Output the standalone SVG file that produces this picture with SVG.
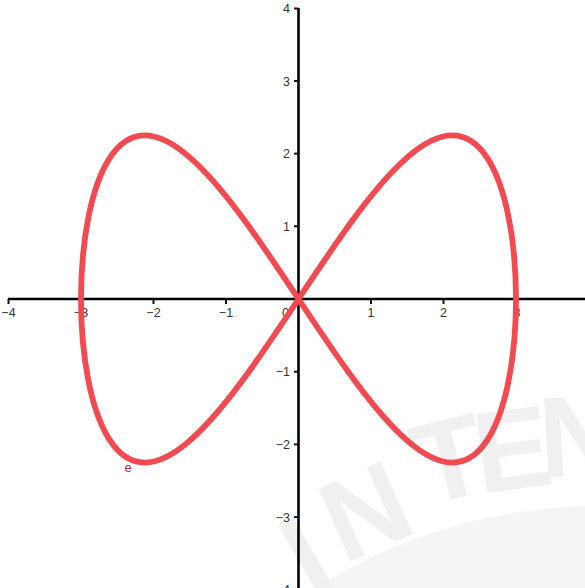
<svg xmlns="http://www.w3.org/2000/svg" width="585" height="588" viewBox="0 0 585 588">
<style>
.wm{font-family:"Liberation Sans",Arial,sans-serif;font-weight:bold;font-size:115px;fill:#f0f0f0;text-anchor:middle}
.tk{stroke:#111;stroke-width:2}
.lx{font-family:"Liberation Sans",Arial,sans-serif;font-size:12.5px;fill:#333;text-anchor:middle}
.ly{font-family:"Liberation Sans",Arial,sans-serif;font-size:12.5px;fill:#333;text-anchor:end}
</style>
<rect width="585" height="588" fill="#fff"/>
<g id="watermark">
<circle cx="600" cy="1040" r="534" fill="#f5f5f5"/>
<text class="wm" transform="translate(305,555) rotate(-30)" y="41">I</text>
<text class="wm" transform="translate(365,510) rotate(-24)" y="41">N</text>
<text class="wm" transform="translate(449,458) rotate(-14)" y="41">T</text>
<text class="wm" transform="translate(512,448) rotate(-8)" y="41">E</text>
<text class="wm" transform="translate(580,435) rotate(-3)" y="41">N</text>
</g>
<g id="axes">
<line x1="8" y1="299" x2="585" y2="299" stroke="#000" stroke-width="2.6"/>
<line x1="298.5" y1="8" x2="298.5" y2="588" stroke="#000" stroke-width="2.6"/>
<g id="xticks">
<line class="tk" x1="8.5" y1="299" x2="8.5" y2="304"/>
<line class="tk" x1="81" y1="299" x2="81" y2="304"/>
<line class="tk" x1="153.5" y1="299" x2="153.5" y2="304"/>
<line class="tk" x1="226" y1="299" x2="226" y2="304"/>
<line class="tk" x1="371" y1="299" x2="371" y2="304"/>
<line class="tk" x1="443.5" y1="299" x2="443.5" y2="304"/>
<line class="tk" x1="516" y1="299" x2="516" y2="304"/>
</g>
<g id="yticks">
<line class="tk" x1="294" y1="8.5" x2="298.5" y2="8.5"/>
<line class="tk" x1="294" y1="81" x2="298.5" y2="81"/>
<line class="tk" x1="294" y1="153.6" x2="298.5" y2="153.6"/>
<line class="tk" x1="294" y1="226.3" x2="298.5" y2="226.3"/>
<line class="tk" x1="294" y1="371.7" x2="298.5" y2="371.7"/>
<line class="tk" x1="294" y1="444.4" x2="298.5" y2="444.4"/>
<line class="tk" x1="294" y1="517.1" x2="298.5" y2="517.1"/>
</g>
<g id="xlabels">
<text class="lx" x="8.5" y="317">−4</text>
<text class="lx" x="81" y="317">−3</text>
<text class="lx" x="153.5" y="317">−2</text>
<text class="lx" x="226" y="317">−1</text>
<text class="ly" x="289" y="317">0</text>
<text class="lx" x="371" y="317">1</text>
<text class="lx" x="443.5" y="317">2</text>
<text class="lx" x="517" y="317">3</text>
</g>
<g id="ylabels">
<text class="ly" x="290" y="13">4</text>
<text class="ly" x="290" y="85.5">3</text>
<text class="ly" x="290" y="158">2</text>
<text class="ly" x="290" y="230.8">1</text>
<text class="ly" x="290" y="376.2">−1</text>
<text class="ly" x="290" y="448.9">−2</text>
<text class="ly" x="290" y="521.6">−3</text>
<text class="ly" x="290" y="594">−4</text>
</g>
</g>
<g id="curve-e">
<path fill="none" stroke="#f24a50" stroke-width="5.8" stroke-linejoin="round" d="M516,299 C516,270.45 513.5,241.93 508.59,217.21 C503.68,192.49 496.35,171.62 486.86,157.34 C477.37,143.07 465.72,135.43 452.3,135.43 C438.88,135.43 423.69,143.07 407.25,157.34 C390.81,171.62 373.12,192.49 354.79,217.21 C336.46,241.93 317.48,270.45 298.5,299 C279.52,327.55 260.54,356.07 242.21,380.79 C223.88,405.51 206.19,426.38 189.75,440.66 C173.31,454.94 158.12,462.58 144.7,462.58 C131.28,462.58 119.63,454.94 110.14,440.66 C100.65,426.38 93.32,405.51 88.41,380.79 C83.5,356.07 81,327.55 81,299 C81,270.45 83.5,241.93 88.41,217.21 C93.32,192.49 100.65,171.62 110.14,157.34 C119.63,143.07 131.28,135.43 144.7,135.43 C158.12,135.43 173.31,143.07 189.75,157.34 C206.19,171.62 223.88,192.49 242.21,217.21 C260.54,241.93 279.52,270.45 298.5,299 C317.48,327.55 336.46,356.07 354.79,380.79 C373.12,405.51 390.81,426.38 407.25,440.66 C423.69,454.94 438.88,462.58 452.3,462.58 C465.72,462.58 477.37,454.94 486.86,440.66 C496.35,426.38 503.68,405.51 508.59,380.79 C513.5,356.07 516,327.55 516,299 Z"/>
<text x="128" y="472" font-family="Liberation Sans, Arial, sans-serif" font-size="13" fill="#b8283c" text-anchor="middle">e</text>
</g>
</svg>
